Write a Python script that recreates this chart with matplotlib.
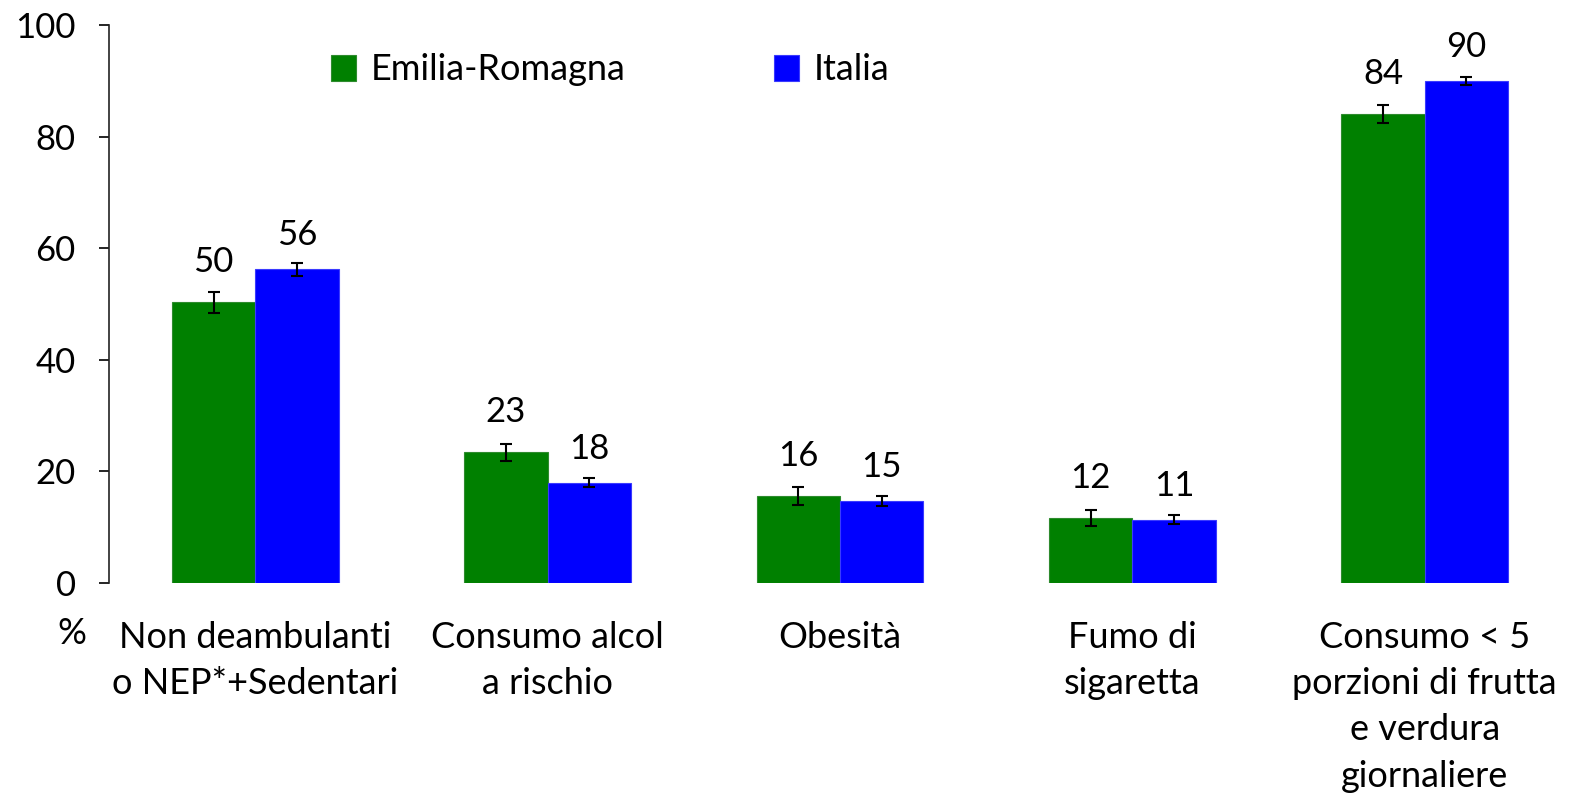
import numpy as np
import matplotlib
matplotlib.use("Agg")
import matplotlib.pyplot as plt

plt.rcParams['font.family'] = ['Lato', 'DejaVu Sans']

# dati
categorie = ["Non deambulanti\no NEP*+Sedentari", "Consumo alcol\na rischio", "Obesità",
             "Fumo di\nsigaretta", "Consumo < 5\nporzioni di frutta\ne verdura\ngiornaliere"]
emilia = [50.3, 23.4, 15.6, 11.6, 84.0]
emilia_err = [1.9, 1.5, 1.6, 1.4, 1.6]
italia = [56.2, 18.0, 14.7, 11.3, 90.0]
italia_err = [1.2, 0.8, 0.9, 0.8, 0.75]

fig = plt.figure(figsize=(15.73, 8), dpi=100)
ax = fig.add_axes([0.0693, 0.27125, 0.9294, 0.6975])

x = np.arange(len(categorie))
w = 0.285
err_kw = dict(ecolor='black', elinewidth=1.5, capsize=4, capthick=1.5)
ax.bar(x - w/2, emilia, w, color='#008000', edgecolor='#2e8b2e', linewidth=0.8,
       yerr=emilia_err, error_kw=err_kw, label='Emilia-Romagna')
ax.bar(x + w/2, italia, w, color='#0000ff', edgecolor='#3a3aff', linewidth=0.8,
       yerr=italia_err, error_kw=err_kw, label='Italia')

# etichette valori
for xs, vals, off in [(x - w/2, emilia, 29), (x + w/2, italia, 24.5)]:
    for xi, v in zip(xs, vals):
        ax.annotate(f"{round(v)}", (xi, v), xytext=(0, off), textcoords='offset points',
                    ha='center', va='center', fontsize=25)

ax.set_xlim(-0.5, 4.5)
ax.set_ylim(0, 100)
ax.set_yticks(range(0, 101, 20))
ax.tick_params(axis='y', labelsize=25, length=7, width=1.2, direction='out', pad=17)
ax.set_xticks(x)
ax.set_xticklabels(categorie, fontsize=26, linespacing=1.5)
ax.tick_params(axis='x', length=0, pad=27)
for s in ['top', 'right', 'bottom']:
    ax.spines[s].set_visible(False)
ax.spines['left'].set_color('#222222')
ax.spines['left'].set_linewidth(1.2)

fig.text(72 / 1573, 1 - 633 / 800, "%", fontsize=26, ha='center', va='center')

ax.legend(loc='center', bbox_to_anchor=(610 / 1573, 1 - 70 / 800), bbox_transform=fig.transFigure,
          ncol=2, frameon=False, fontsize=26, handlelength=0.7, handleheight=0.7,
          handletextpad=0.4, columnspacing=4.1)

fig.savefig("out.png", dpi=100)
